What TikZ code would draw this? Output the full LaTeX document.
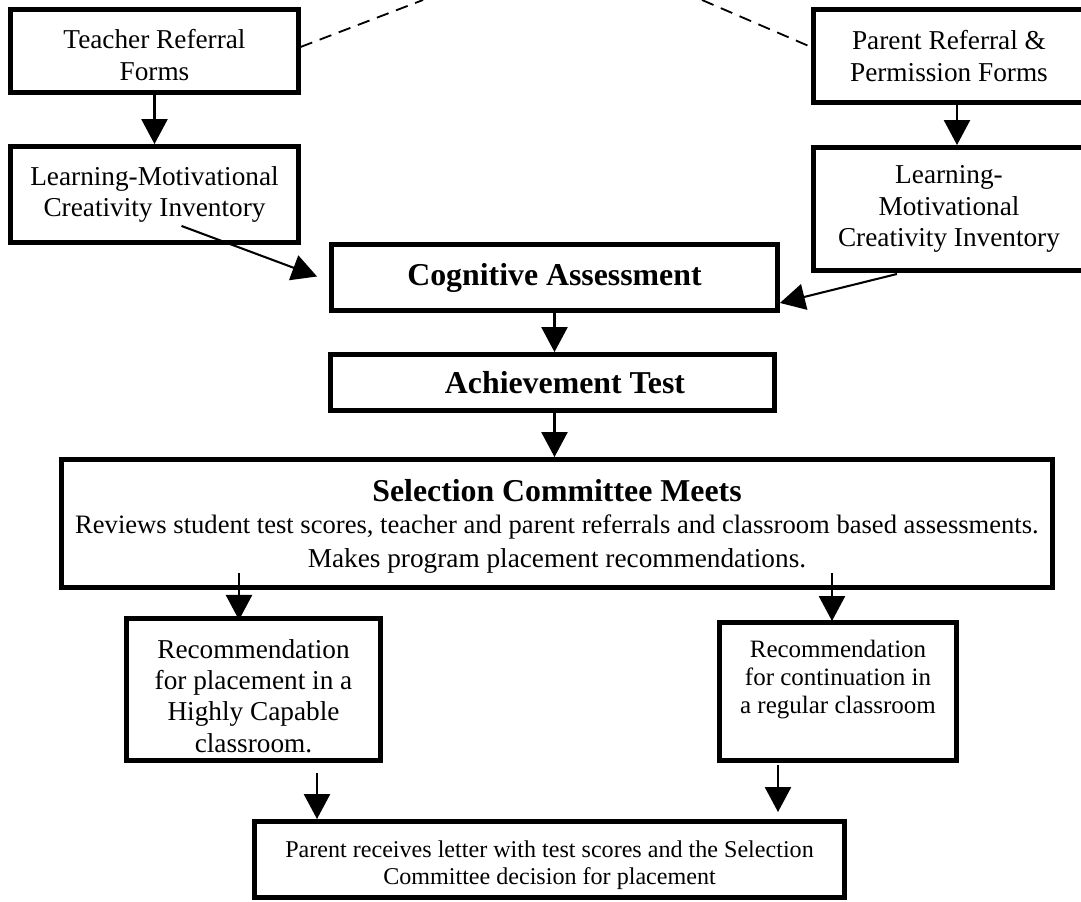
\documentclass[tikz,border=0pt]{standalone}
\usepackage{fontspec}
\setmainfont{Liberation Serif}
\usetikzlibrary{arrows.meta,calc}
\tikzstyle{box}=[draw,line width=2.2pt,inner sep=1pt,align=center,font=\fontsize{12}{13.8}\selectfont]
\tikzstyle{heading}=[box,font=\bfseries\fontsize{14}{16}\selectfont]
\tikzstyle{edge}=[draw,line width=0.9pt,-{Triangle[length=11pt,width=11.5pt]}]
\tikzstyle{link}=[draw,line width=0.8pt,dash pattern=on 5.5pt off 3.5pt]

\begin{document}
\begin{tikzpicture}[x=0.44pt,y=-0.44pt]
        \useasboundingbox (0,0) rectangle (1081,902);
        % referral forms
        \node[box,minimum width=126.3pt,minimum height=36.5pt] (teacher) at (154.5,51) {\rule{0pt}{12pt}Teacher Referral\\Forms};
        \node[box,minimum width=119.2pt,minimum height=40.9pt] (parent) at (949,56) {Parent Referral \&\\Permission Forms};
        \node[box,minimum width=126.3pt,minimum height=42.2pt] (invL) at (154.5,194.5) {Learning-Motivational\\Creativity Inventory};
        \node[box,minimum width=119.2pt,minimum height=54.1pt] (invR) at (949,209) {Learning-\\Motivational\\Creativity Inventory};
        % tests
        \node[heading,minimum width=196.2pt,minimum height=29pt] (cog) at (554.5,277.5) {Cognitive Assessment};
        \node[heading,minimum width=195.4pt,minimum height=24.6pt] (ach) at (552.5,382.5) {\hspace*{11pt}Achievement Test};
        \node[box,minimum width=436pt,minimum height=56.3pt] (sel) at (557,523.5) {{\bfseries\fontsize{14}{16}\selectfont\rule{0pt}{12pt}Selection Committee Meets}\\[0.7pt]{\fontsize{11.7}{13.8}\selectfont Reviews student test scores, teacher and parent referrals and classroom based assessments.}\\[0.9pt]Makes program placement recommendations.};
        % recommendations
        \node[box,minimum width=111.8pt,minimum height=62.5pt] (recHC) at (253.5,689.5) {\rule{0pt}{14pt}Recommendation\\for placement in a\\Highly Capable\\classroom.};
        \node[box,minimum width=104.3pt,minimum height=60.7pt,text depth=12.8pt,font=\fontsize{11}{12.2}\selectfont] (recReg) at (838,691.5) {Recommendation\\for continuation in\\a regular classroom};
        \node[box,minimum width=259.6pt,minimum height=33.4pt,font=\fontsize{10.6}{11.9}\selectfont] (letter) at (549.5,859.5) {\rule{0pt}{12.5pt}Parent receives letter with test scores and the Selection\\Committee decision for placement};
        \coordinate (topL) at (423,0);
        \coordinate (topR) at (702,0);
        \coordinate (hc) at ($(recHC.south)+(63.5,10)$);
        \coordinate (reg) at ($(recReg.south)+(-60,2)$);
        \draw[link] ($(teacher.east)+(0,-4)$) to (topL);
        \draw[link] (topR) to ($(parent.west)+(0,-9)$);
        \draw[edge] (teacher) to (invL);
        \draw[edge] ($(parent.south)+(8,0)$) to ($(invR.north)+(8,0)$);
        \draw[edge] ($(invL.south)+(27,-19)$) to ($(cog.west)+(-12,-1)$);
        \draw[edge] ($(invR.south)+(-52,1)$) to ($(cog.south east)+(0,-10)$);
        \draw[edge] (cog.south) to (cog.south |- ach.north);
        \draw[edge] (cog.south |- ach.south) to (cog.south |- sel.north);
        \draw[edge] ($(sel.south -| recHC.north)+(-14.5,-17)$) to ($(recHC.north)+(-14.5,4)$);
        \draw[edge] ($(sel.south -| recReg.north)+(-6,-17)$) to ($(recReg.north)+(-6,1)$);
        \draw[edge] (hc) to (hc |- letter.north);
        \draw[edge] (reg) to ($(reg |- letter.north)+(0,-7)$);
\end{tikzpicture}
\end{document}
